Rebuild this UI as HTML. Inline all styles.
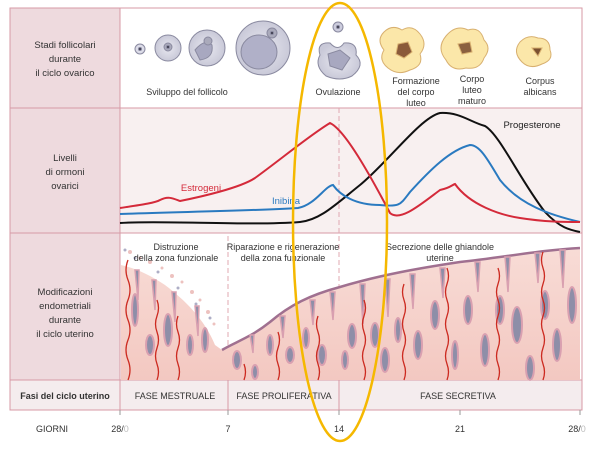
<!DOCTYPE html>
<html><head><meta charset="utf-8"><style>
body{margin:0;background:#fff;}
svg{display:block;font-family:"Liberation Sans",sans-serif;}
</style></head><body>
<svg width="600" height="450" viewBox="0 0 600 450">
<defs>
<linearGradient id="en" x1="0" y1="0" x2="0" y2="1"><stop offset="0" stop-color="#f8dcd6"/><stop offset="1" stop-color="#f3c8c1"/></linearGradient>
<radialGradient id="fol" cx="0.5" cy="0.5" r="0.5"><stop offset="0" stop-color="#e8e8f0"/><stop offset="1" stop-color="#c9c9d8"/></radialGradient>
</defs>
<rect x="10" y="8" width="572" height="402" fill="#fff"/>
<rect x="10" y="8" width="110" height="372" fill="#eedade"/>
<rect x="120" y="108" width="462" height="125" fill="#f8f0f0"/>
<rect x="10" y="380" width="572" height="30" fill="#f4ecee"/>
<g stroke="#d79aa6" stroke-width="1" fill="none">
<rect x="10" y="8" width="572" height="402"/>
<line x1="10" y1="108" x2="582" y2="108"/>
<line x1="10" y1="233" x2="582" y2="233"/>
<line x1="10" y1="380" x2="582" y2="380"/>
<line x1="120" y1="8" x2="120" y2="410"/>
<line x1="228" y1="380" x2="228" y2="410"/>
<line x1="339" y1="380" x2="339" y2="410"/>
</g>
<g stroke="#e0a8b2" stroke-width="1" stroke-dasharray="5,3">
<line x1="339" y1="108" x2="339" y2="233"/>
<line x1="228" y1="236" x2="228" y2="380"/>
<line x1="339" y1="236" x2="339" y2="380"/>
</g>
<g font-size="9.5" fill="#333" text-anchor="middle">
<text x="65" y="48">Stadi follicolari</text><text x="65" y="62">durante</text><text x="65" y="76">il ciclo ovarico</text>
<text x="65" y="161">Livelli</text><text x="65" y="175">di ormoni</text><text x="65" y="189">ovarici</text>
<text x="65" y="295">Modificazioni</text><text x="65" y="309">endometriali</text><text x="65" y="323">durante</text><text x="65" y="337">il ciclo uterino</text>
<text x="65" y="399" font-weight="bold" font-size="9">Fasi del ciclo uterino</text>
<text x="175" y="399" font-size="9">FASE MESTRUALE</text>
<text x="284" y="399" font-size="9">FASE PROLIFERATIVA</text>
<text x="458" y="399" font-size="9">FASE SECRETIVA</text>
<text x="52" y="432" font-size="9">GIORNI</text>
<text x="120" y="432" font-size="9">28/<tspan fill="#bbb">0</tspan></text>
<text x="228" y="432" font-size="9">7</text>
<text x="339" y="432" font-size="9">14</text>
<text x="460" y="432" font-size="9">21</text>
<text x="577" y="432" font-size="9">28/<tspan fill="#bbb">0</tspan></text>
</g>
<g stroke="#999" stroke-width="1"><line x1="120" y1="410" x2="120" y2="415"/><line x1="228" y1="410" x2="228" y2="415"/><line x1="339" y1="410" x2="339" y2="415"/><line x1="460" y1="410" x2="460" y2="415"/><line x1="580" y1="410" x2="580" y2="415"/></g>
<g stroke="#8a8aa0" stroke-width="1">
<circle cx="140" cy="49" r="5" fill="#dcdce8"/><circle cx="140" cy="49" r="1.5" fill="#334"/>
<circle cx="168" cy="48" r="13" fill="url(#fol)"/><circle cx="168" cy="47" r="4" fill="#aab" /><circle cx="168" cy="47" r="1.5" fill="#334"/>
<circle cx="207" cy="48" r="18" fill="url(#fol)"/><path d="M195 50 Q205 38 212 45 Q214 58 200 60 Z" fill="#a8a8c0"/><circle cx="208" cy="41" r="4" fill="#aab"/>
<circle cx="263" cy="48" r="27" fill="url(#fol)"/><ellipse cx="259" cy="52" rx="18" ry="17" fill="#b0b0c8"/><circle cx="272" cy="33" r="5" fill="#aab"/><circle cx="272" cy="33" r="1.5" fill="#334"/>
<circle cx="338" cy="27" r="5" fill="#ccd"/><circle cx="338" cy="27" r="1.5" fill="#334"/>
<path d="M320 55 Q316 42 330 43 Q338 52 344 43 Q358 42 356 55 Q366 65 352 76 Q340 82 326 76 Q314 66 320 55Z" fill="url(#fol)"/><path d="M328 54 L340 50 L350 58 L342 70 L330 66Z" fill="#a8a8c0"/>
</g>
<g stroke="#d8b070" stroke-width="1">
<path d="M384 32 Q392 24 402 30 Q412 24 420 34 Q428 44 420 54 Q424 66 410 70 Q398 76 388 68 Q378 60 384 50 Q376 40 384 32Z" fill="#fbe7a9"/><path d="M398 44 L408 42 L412 52 L404 58 L396 54Z" fill="#8a5a3a"/>
<path d="M446 36 Q456 24 468 30 Q480 26 484 40 Q492 48 484 58 Q480 70 466 68 Q452 72 446 60 Q436 48 446 36Z" fill="#fbe7a9"/><path d="M458 44 L470 42 L472 52 L462 54Z" fill="#8a6040"/>
<path d="M520 42 Q528 34 538 38 Q550 38 550 50 Q554 60 542 64 Q530 70 522 62 Q512 52 520 42Z" fill="#fbe7a9"/><path d="M532 48 L542 48 L538 56Z" fill="#7a5030"/>
</g>
<g font-size="9" fill="#333" text-anchor="middle">
<text x="187" y="95">Sviluppo del follicolo</text>
<text x="338" y="95">Ovulazione</text>
<text x="416" y="84">Formazione</text><text x="416" y="95">del corpo</text><text x="416" y="106">luteo</text>
<text x="472" y="82">Corpo</text><text x="472" y="93">luteo</text><text x="472" y="104">maturo</text>
<text x="540" y="84">Corpus</text><text x="540" y="95">albicans</text>
</g>
<g fill="none" stroke-width="2">
<path d="M120 223 C160 220 250 226 300 222 C320 220 335 205 360 185 C390 160 420 118 440 113 C460 112 470 122 485 126 C500 135 520 180 545 212 C560 228 570 230 580 232" stroke="#111"/>
<path d="M120 214 C170 212 250 211 298 208 C315 205 325 186 333 185 C340 195 355 205 380 205 C400 207 400 205 410 192 C430 170 450 150 470 145 C480 145 488 160 500 180 C520 205 550 215 580 222" stroke="#2a7ac0"/>
<path d="M120 208 C140 205 155 203 160 200 C168 196 172 198 180 201 C200 197 240 188 255 178 C280 160 310 135 330 123 C345 130 370 175 390 213 C400 222 420 205 440 190 C450 188 452 185 455 184 C470 205 500 215 520 218 C545 222 565 222 580 222" stroke="#d42a3a"/>
</g>
<g font-size="9.5" text-anchor="middle">
<text x="201" y="191" fill="#d42a3a">Estrogeni</text>
<text x="286" y="204" fill="#2a7ac0">Inibina</text>
<text x="532" y="128" fill="#222">Progesterone</text>
</g>
<!-- endometrium -->
<path d="M121 380 L121 265 C135 268 150 275 165 285 C185 300 205 320 215 345 L222 350 C235 342 250 338 270 322 C290 305 310 295 340 287 C380 275 420 268 460 262 C500 258 540 250 580 248 L580 380 Z" fill="url(#en)"/>
<g fill="#e9b3b0" opacity="0.8">
<circle cx="130" cy="252" r="2"/><circle cx="140" cy="258" r="1.5"/><circle cx="150" cy="262" r="2"/><circle cx="162" cy="268" r="1.5"/><circle cx="172" cy="276" r="2"/><circle cx="182" cy="282" r="1.5"/><circle cx="192" cy="292" r="2"/><circle cx="200" cy="300" r="1.5"/><circle cx="208" cy="312" r="2"/><circle cx="214" cy="324" r="1.5"/>
</g>
<g fill="#9a9ab8" opacity="0.8">
<circle cx="135" cy="258" r="1.5"/><circle cx="158" cy="272" r="1.5"/><circle cx="178" cy="288" r="1.5"/><circle cx="196" cy="304" r="1.5"/><circle cx="210" cy="318" r="1.5"/><circle cx="125" cy="250" r="1.5"/>
</g>
<path d="M222 350 C235 342 250 338 270 322 C290 305 310 295 340 287 C380 275 420 268 460 262 C500 258 540 250 580 248" fill="none" stroke="#a07090" stroke-width="2.5"/>
<!-- surface invaginations -->
<g fill="#8e8ea8" stroke="#d9a0b0" stroke-width="1.5">
<path d="M250 335 l4 0 l-1 18 z"/><path d="M280 316 l5 0 l-2 22 z"/><path d="M310 300 l5 0 l-2 25 z"/><path d="M330 292 l5 0 l-2 28 z"/>
<path d="M360 284 l5 0 l-2 40 z"/><path d="M385 279 l5 0 l-2 38 z"/><path d="M410 274 l5 0 l-2 35 z"/><path d="M440 268 l5 0 l-2 30 z"/>
<path d="M475 262 l5 0 l-2 30 z"/><path d="M505 257 l5 0 l-2 35 z"/><path d="M535 253 l5 0 l-2 30 z"/><path d="M560 250 l5 0 l-2 38 z"/>
<path d="M135 270 l4 0 l-1 30 z"/><path d="M152 280 l4 0 l-1 30 z"/><path d="M172 292 l4 0 l-1 30 z"/><path d="M195 306 l4 0 l-1 30 z"/>
</g>
<g fill="#8e8ea8" stroke="#d9a0b0" stroke-width="2">
<ellipse cx="135" cy="310" rx="3" ry="16"/><ellipse cx="150" cy="345" rx="4" ry="10"/><ellipse cx="168" cy="330" rx="4" ry="16"/>
<ellipse cx="190" cy="345" rx="3" ry="10"/><ellipse cx="205" cy="340" rx="3" ry="12"/><ellipse cx="237" cy="360" rx="4" ry="9"/>
<ellipse cx="255" cy="372" rx="3" ry="7"/><ellipse cx="270" cy="345" rx="3" ry="10"/><ellipse cx="290" cy="355" rx="4" ry="8"/>
<ellipse cx="306" cy="338" rx="3" ry="10"/><ellipse cx="322" cy="355" rx="4" ry="10"/><ellipse cx="345" cy="360" rx="3" ry="9"/>
<ellipse cx="352" cy="336" rx="4" ry="12"/><ellipse cx="375" cy="335" rx="4" ry="12"/><ellipse cx="385" cy="360" rx="4" ry="12"/>
<ellipse cx="398" cy="330" rx="3" ry="12"/><ellipse cx="418" cy="345" rx="4" ry="14"/><ellipse cx="435" cy="315" rx="4" ry="14"/>
<ellipse cx="455" cy="355" rx="3" ry="14"/><ellipse cx="468" cy="310" rx="4" ry="14"/><ellipse cx="485" cy="350" rx="4" ry="16"/>
<ellipse cx="500" cy="310" rx="4" ry="14"/><ellipse cx="517" cy="325" rx="5" ry="18"/><ellipse cx="530" cy="368" rx="4" ry="12"/>
<ellipse cx="545" cy="305" rx="4" ry="14"/><ellipse cx="557" cy="345" rx="4" ry="16"/><ellipse cx="572" cy="305" rx="4" ry="18"/>
</g>
<g fill="none" stroke="#cc2a20" stroke-width="1.3">
<path d="M128 380 q4 -10 0 -20 q-4 -10 0 -20 q4 -10 0 -20 q-4 -10 0 -20 q4 -10 0 -20 q-4 -10 0 -20"/>
<path d="M157 380 q3 -8 0 -16 q-3 -8 0 -16 q3 -8 0 -16 q-3 -8 0 -16 q3 -8 0 -16"/>
<path d="M178 380 q3 -8 0 -16 q-3 -8 0 -16 q3 -8 0 -16 q-3 -8 0 -16"/>
<path d="M244 380 q3 -8 0 -16"/>
<path d="M278 380 q3 -8 0 -16 q-3 -8 0 -16 q3 -8 0 -16"/>
<path d="M318 380 q3 -8 0 -16 q-3 -8 0 -16 q3 -8 0 -16 q-3 -8 0 -16"/>
<path d="M364 380 q3 -8 0 -16 q-3 -8 0 -16 q3 -8 0 -16 q-3 -8 0 -16 q3 -8 0 -16"/>
<path d="M404 380 q3 -8 0 -16 q-3 -8 0 -16 q3 -8 0 -16 q-3 -8 0 -16 q3 -8 0 -16 q-3 -8 0 -16"/>
<path d="M447 380 q3 -8 0 -16 q-3 -8 0 -16 q3 -8 0 -16 q-3 -8 0 -16 q3 -8 0 -16 q-3 -8 0 -16 q3 -8 0 -16"/>
<path d="M498 380 q3 -8 0 -16 q-3 -8 0 -16 q3 -8 0 -16 q-3 -8 0 -16 q3 -8 0 -16 q-3 -8 0 -16 q3 -8 0 -16"/>
<path d="M543 380 q3 -8 0 -16 q-3 -8 0 -16 q3 -8 0 -16 q-3 -8 0 -16 q3 -8 0 -16 q-3 -8 0 -16 q3 -8 0 -16 q-3 -8 0 -16"/>
</g>
<g font-size="9" fill="#333" text-anchor="middle">
<text x="176" y="250">Distruzione</text><text x="176" y="261">della zona funzionale</text>
<text x="283" y="250">Riparazione e rigenerazione</text><text x="283" y="261">della zona funzionale</text>
<text x="440" y="250">Secrezione delle ghiandole</text><text x="440" y="261">uterine</text>
</g>
<ellipse cx="340" cy="222" rx="47" ry="219" fill="none" stroke="#f5b800" stroke-width="2.5"/>
</svg>
</body></html>
